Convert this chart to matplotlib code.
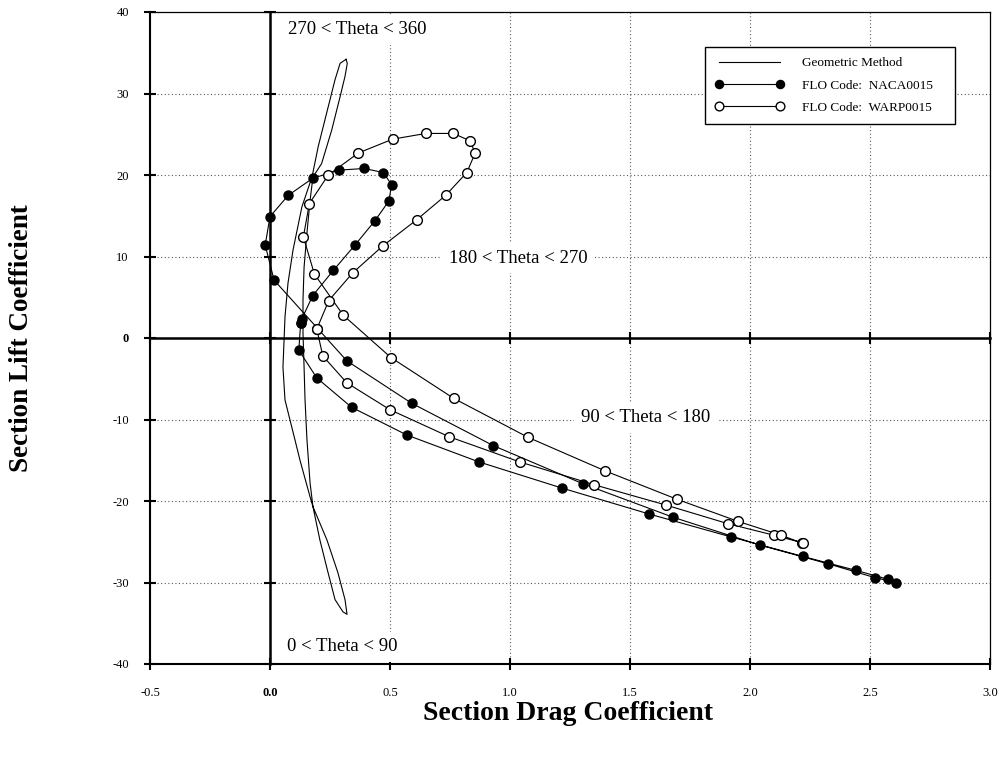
import matplotlib
matplotlib.use('Agg')

import matplotlib.pyplot as plt
from matplotlib.ticker import FixedLocator, FixedFormatter

plt.rcParams['font.family'] = ['Liberation Serif', 'DejaVu Serif']
plt.rcParams['axes.unicode_minus'] = False

# -----------------------------
# Data
# -----------------------------

# geometric method: one closed loop, top tip -> bottom tip -> back up
geo_cd = [0.317, 0.292, 0.271, 0.236, 0.201, 0.175, 0.133, 0.096, 0.075, 0.0625,
          0.054, 0.0625, 0.104, 0.125, 0.167, 0.179, 0.2375, 0.283, 0.3125, 0.321,
          0.304, 0.271, 0.242, 0.208, 0.179, 0.167, 0.154, 0.146, 0.142, 0.1375,
          0.1375, 0.142, 0.154, 0.167, 0.179, 0.215, 0.257, 0.292, 0.3125, 0.322,
          0.317]
geo_cl = [34.2, 33.7, 31.7, 27.6, 23.5, 19.75, 16.1, 10.8, 6.75, 2.6,
          -3.6, -7.6, -12.5, -15.0, -19.5, -20.7, -24.8, -28.8, -32.1, -33.9,
          -33.6, -32.1, -28.8, -24.8, -20.7, -17.8, -12.5, -7.6, -3.6, 0.6,
          4.7, 8.7, 12.9, 16.9, 19.75, 21.4, 25.5, 29.6, 32.1, 33.7,
          34.2]

naca_cd = [0.128, 0.12, 0.195, 0.34, 0.57, 0.87, 1.215, 1.58, 1.92, 2.22,
           2.44, 2.575, 2.61, 2.52, 2.325, 2.04, 1.68, 1.305, 0.93, 0.59,
           0.32, 0.017, -0.02, 0.0, 0.076, 0.178, 0.289, 0.393, 0.472, 0.507,
           0.495, 0.4375, 0.354, 0.264, 0.178, 0.132, 0.128]
naca_cl = [1.9, -1.5, -4.9, -8.5, -11.9, -15.2, -18.4, -21.6, -24.4, -26.8,
           -28.5, -29.6, -30.0, -29.4, -27.7, -25.4, -22.0, -17.9, -13.2, -8.0,
           -2.8, 7.1, 11.4, 14.9, 17.5, 19.6, 20.6, 20.8, 20.3, 18.8,
           16.8, 14.4, 11.4, 8.3, 5.2, 2.3, 1.9]

warp_cd = [0.195, 0.22, 0.32, 0.5, 0.745, 1.04, 1.35, 1.65, 1.91, 2.1,
           2.215, 2.22, 2.13, 1.95, 1.697, 1.396, 1.076, 0.765, 0.504, 0.305,
           0.185, 0.139, 0.164, 0.243, 0.368, 0.511, 0.65, 0.764, 0.833, 0.855,
           0.82, 0.732, 0.611, 0.47, 0.345, 0.245, 0.195]
warp_cl = [1.1, -2.2, -5.5, -8.8, -12.1, -15.2, -18.0, -20.5, -22.8, -24.2,
           -25.1, -25.2, -24.2, -22.5, -19.8, -16.3, -12.2, -7.4, -2.4, 2.8,
           7.85, 12.4, 16.5, 20.0, 22.7, 24.4, 25.1, 25.1, 24.2, 22.7,
           20.3, 17.5, 14.5, 11.3, 8.0, 4.6, 1.1]

x_ticks = [-0.5, 0.0, 0.5, 1.0, 1.5, 2.0, 2.5, 3.0]
x_tick_labels = ['-0.5', '0.0', '0.5', '1.0', '1.5', '2.0', '2.5', '3.0']
y_ticks = [-40, -30, -20, -10, 0, 10, 20, 30, 40]
y_tick_labels = ['-40', '-30', '-20', '-10', '0', '10', '20', '30', '40']

regions = ['270 < Theta < 360', '180 < Theta < 270', '90 < Theta < 180', '0 < Theta < 90']
region_x = [0.075, 0.746, 1.296, 0.07]
region_y = [37.8, 9.8, -9.8, -37.9]

# -----------------------------
# Figure
# -----------------------------

fig = plt.figure(figsize=(9.99, 7.57), dpi=100)
pos = [150 / 999, 1 - 664 / 757, 840 / 999, 652 / 757]
ax = fig.add_axes(pos)

ax.set_xlim(-0.5, 3.0)
ax.set_ylim(-40, 40)

ax.xaxis.set_major_locator(FixedLocator(x_ticks))
ax.xaxis.set_major_formatter(FixedFormatter(x_tick_labels))
ax.yaxis.set_major_locator(FixedLocator(y_ticks))
ax.yaxis.set_major_formatter(FixedFormatter(y_tick_labels))

ax.grid(True, linestyle=(0, (1, 2.2)), color='0.35', linewidth=0.8)
ax.set_axisbelow(True)

ax.tick_params(direction='inout', length=8.5, width=1.5, labelsize=9, colors='k')
ax.tick_params(axis='x', pad=12)
ax.tick_params(axis='y', pad=11)

for side in ['left', 'bottom']:
    ax.spines[side].set_linewidth(1.5)
for side in ['top', 'right']:
    ax.spines[side].set_linewidth(0.9)

for lab in ax.get_xticklabels():
    if lab.get_text() == '0.0':
        lab.set_fontweight('bold')
for lab in ax.get_yticklabels():
    if lab.get_text() == '0':
        lab.set_fontweight('bold')

geo_line, = ax.plot(geo_cd, geo_cl, color='k', lw=0.8, zorder=3)
naca_line, = ax.plot(naca_cd, naca_cl, color='k', lw=0.8, marker='o', ms=6.5,
                     mfc='k', mec='k', mew=1.0, zorder=4)
warp_line, = ax.plot(warp_cd, warp_cl, color='k', lw=0.8, marker='o', ms=7,
                     mfc='white', mec='k', mew=1.0, zorder=4)

for txt, tx, ty in zip(regions, region_x, region_y):
    ax.text(tx, ty, txt, fontsize=13.5, ha='left', va='center', zorder=2,
            bbox=dict(boxstyle='square,pad=0.35', fc='white', ec='none'))

leg = ax.legend([geo_line, naca_line, warp_line],
                ['Geometric Method', 'FLO Code:  NACA0015', 'FLO Code:  WARP0015'],
                loc='upper left', bbox_to_anchor=(0.6524, 0.8, 0.3143, 0.157),
                mode='expand', numpoints=2, handlelength=5.2, handletextpad=1.4,
                borderpad=0.8, labelspacing=0.75, fontsize=9.5, markerscale=0.9,
                fancybox=False, framealpha=1, edgecolor='k')
leg.get_frame().set_linewidth(1.0)
leg.set_zorder(6)

# zero axes with their own ticks
ax0 = fig.add_axes(pos, sharex=ax, sharey=ax)
ax0.patch.set_visible(False)
ax0.spines['left'].set_position(('data', 0))
ax0.spines['bottom'].set_position(('data', 0))
ax0.spines['top'].set_visible(False)
ax0.spines['right'].set_visible(False)
for side in ['left', 'bottom']:
    ax0.spines[side].set_linewidth(1.8)
ax0.tick_params(direction='inout', length=8.5, width=1.5,
                labelleft=False, labelbottom=False)
ax0.grid(False)

fig.text(568 / 999, 1 - 714 / 757, 'Section Drag Coefficient', ha='center', va='center',
         fontsize=20, fontweight='bold')
fig.text(22 / 999, 1 - 338 / 757, 'Section Lift Coefficient', ha='center', va='center',
         rotation=90, fontsize=19.5, fontweight='bold')

fig.savefig('out.png', dpi=100)
plt.close(fig)
